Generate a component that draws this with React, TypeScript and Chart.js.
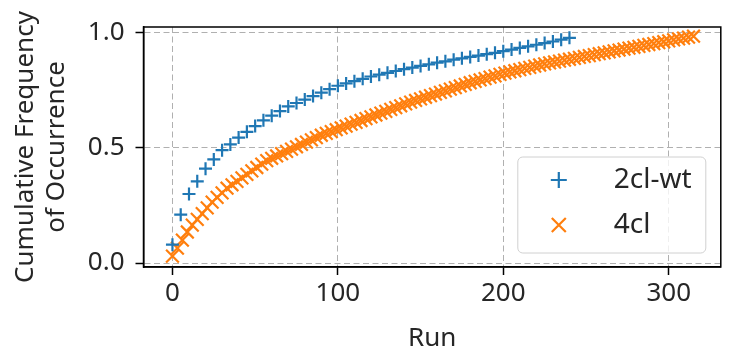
import React, { useEffect, useRef } from "react";
import { Chart, registerables } from "chart.js";

Chart.register(...registerables);

// Run numbers and cumulative frequencies
const runs2clwt = [
  0, 5, 10, 15, 20, 25, 30, 35, 40, 45, 50, 55, 60, 65, 70, 75, 80, 85, 90, 95,
  100, 105, 110, 115, 120, 125, 130, 135, 140, 145, 150, 155, 160, 165, 170, 175,
  180, 185, 190, 195, 200, 205, 210, 215, 220, 225, 230, 235, 240,
];
const freq2clwt = [
  0.08, 0.21, 0.3, 0.355, 0.41, 0.45, 0.49, 0.515, 0.545, 0.57, 0.595, 0.62, 0.64,
  0.66, 0.68, 0.695, 0.71, 0.725, 0.74, 0.755, 0.77, 0.78, 0.79, 0.8, 0.81, 0.818,
  0.826, 0.834, 0.842, 0.849, 0.856, 0.863, 0.87, 0.876, 0.883, 0.889, 0.895, 0.901,
  0.907, 0.913, 0.92, 0.927, 0.934, 0.941, 0.948, 0.955, 0.962, 0.97, 0.978,
];

const runs4cl = [
  0, 3, 6, 9, 12, 15, 18, 21, 24, 27, 30, 33, 36, 39, 42, 45, 48, 51, 54, 57, 60,
  63, 66, 69, 72, 75, 78, 81, 84, 87, 90, 93, 96, 99, 102, 105, 108, 111, 114, 117,
  120, 123, 126, 129, 132, 135, 138, 141, 144, 147, 150, 153, 156, 159, 162, 165,
  168, 171, 174, 177, 180, 183, 186, 189, 192, 195, 198, 201, 204, 207, 210, 213,
  216, 219, 222, 225, 228, 231, 234, 237, 240, 243, 246, 249, 252, 255, 258, 261,
  264, 267, 270, 273, 276, 279, 282, 285, 288, 291, 294, 297, 300, 303, 306, 309,
  312, 315,
];
const freq4cl = [
  0.03, 0.065, 0.1, 0.135, 0.165, 0.19, 0.215, 0.24, 0.265, 0.285, 0.305, 0.325,
  0.34, 0.355, 0.37, 0.385, 0.4, 0.415, 0.43, 0.445, 0.455, 0.465, 0.475, 0.485,
  0.495, 0.505, 0.515, 0.525, 0.535, 0.545, 0.555, 0.563, 0.571, 0.579, 0.587,
  0.595, 0.603, 0.611, 0.619, 0.627, 0.635, 0.643, 0.651, 0.659, 0.667, 0.675,
  0.683, 0.691, 0.699, 0.706, 0.713, 0.72, 0.727, 0.734, 0.741, 0.748, 0.755,
  0.762, 0.769, 0.776, 0.783, 0.789, 0.795, 0.801, 0.807, 0.813, 0.819, 0.825,
  0.83, 0.835, 0.84, 0.845, 0.85, 0.855, 0.86, 0.865, 0.869, 0.873, 0.877, 0.881,
  0.885, 0.889, 0.893, 0.897, 0.901, 0.905, 0.909, 0.913, 0.917, 0.921, 0.925,
  0.929, 0.933, 0.937, 0.941, 0.945, 0.949, 0.953, 0.957, 0.961, 0.965, 0.969,
  0.973, 0.977, 0.981, 0.985,
];

const seriesNames = ["2cl-wt", "4cl"];
const xTicks = [0, 100, 200, 300];
const yTicks = [0, 0.5, 1.0];
const xTitle = "Run";
const yTitle = ["Cumulative Frequency", "of Occurrence"];

const BLUE = "#1f77b4";
const ORANGE = "#ff7f0e";
const TEXT = "#262626";
const FONT = "'Noto Sans', 'DejaVu Sans', sans-serif";
const FS = 26;

const framePlugin = {
  id: "frame",
  afterDraw(chart: any) {
    const { ctx, chartArea } = chart;
    ctx.save();
    ctx.strokeStyle = "#000";
    ctx.lineWidth = 1.5;
    ctx.strokeRect(
      chartArea.left,
      chartArea.top,
      chartArea.right - chartArea.left,
      chartArea.bottom - chartArea.top
    );
    ctx.restore();
  },
};

const legendPlugin = {
  id: "insideLegend",
  afterDraw(chart: any) {
    const { ctx, chartArea } = chart;
    const w = 188;
    const h = 96;
    const x = chartArea.right - 15 - w;
    const y = chartArea.bottom - 14 - h;
    ctx.save();
    ctx.beginPath();
    const r = 5;
    ctx.moveTo(x + r, y);
    ctx.lineTo(x + w - r, y);
    ctx.arcTo(x + w, y, x + w, y + r, r);
    ctx.lineTo(x + w, y + h - r);
    ctx.arcTo(x + w, y + h, x + w - r, y + h, r);
    ctx.lineTo(x + r, y + h);
    ctx.arcTo(x, y + h, x, y + h - r, r);
    ctx.lineTo(x, y + r);
    ctx.arcTo(x, y, x + r, y, r);
    ctx.closePath();
    ctx.fillStyle = "rgba(255,255,255,0.8)";
    ctx.fill();
    ctx.strokeStyle = "#d0d0d0";
    ctx.lineWidth = 1;
    ctx.stroke();

    const mx = x + 41;
    const rows = [y + 23, y + 68];
    ctx.lineWidth = 2.2;
    ctx.strokeStyle = BLUE;
    ctx.beginPath();
    ctx.moveTo(mx - 8, rows[0]);
    ctx.lineTo(mx + 8, rows[0]);
    ctx.moveTo(mx, rows[0] - 8);
    ctx.lineTo(mx, rows[0] + 8);
    ctx.stroke();
    ctx.strokeStyle = ORANGE;
    ctx.beginPath();
    ctx.moveTo(mx - 7, rows[1] - 7);
    ctx.lineTo(mx + 7, rows[1] + 7);
    ctx.moveTo(mx - 7, rows[1] + 7);
    ctx.lineTo(mx + 7, rows[1] - 7);
    ctx.stroke();

    ctx.fillStyle = TEXT;
    ctx.font = `28px ${FONT}`;
    ctx.textAlign = "left";
    ctx.textBaseline = "middle";
    ctx.fillText(seriesNames[0], x + 96, rows[0]);
    ctx.fillText(seriesNames[1], x + 96, rows[1]);
    ctx.restore();
  },
};

export default function App() {
  const ref = useRef<HTMLCanvasElement | null>(null);

  useEffect(() => {
    if (!ref.current) return;
    const gridCommon = {
      color: "#b0b0b0",
      lineWidth: 1,
      tickColor: "#000",
      tickWidth: 1.5,
      tickLength: 8,
      tickBorderDash: [],
    };
    const chart = new Chart(ref.current, {
      type: "scatter",
      data: {
        datasets: [
          {
            label: seriesNames[0],
            data: runs2clwt.map((r, i) => ({ x: r, y: freq2clwt[i] })),
            pointStyle: "cross",
            pointRadius: 6.5,
            pointBorderWidth: 2.2,
            borderColor: BLUE,
            backgroundColor: BLUE,
            showLine: false,
          },
          {
            label: seriesNames[1],
            data: runs4cl.map((r, i) => ({ x: r, y: freq4cl[i] })),
            pointStyle: "crossRot",
            pointRadius: 9,
            pointBorderWidth: 2.2,
            borderColor: ORANGE,
            backgroundColor: ORANGE,
            showLine: false,
          },
        ],
      },
      options: {
        animation: false,
        responsive: false,
        layout: { padding: { left: 0, top: 27, right: 7, bottom: 0 } },
        plugins: {
          legend: { display: false },
          tooltip: { enabled: false },
        },
        scales: {
          x: {
            type: "linear",
            min: -17.5,
            max: 331.5,
            afterBuildTicks: (s: any) => {
              s.ticks = xTicks.map((v) => ({ value: v }));
            },
            afterFit: (s: any) => {
              s.height = 90;
            },
            grid: gridCommon,
            border: { display: true, color: "#000", width: 1.5, dash: [6, 3.5] },
            ticks: {
              color: TEXT,
              padding: 3,
              font: { family: FONT, size: FS },
              callback: (v: any) => String(v),
            },
            title: {
              display: true,
              text: xTitle,
              color: TEXT,
              font: { family: FONT, size: FS, lineHeight: 1.2 },
              padding: { top: 0, bottom: 3 },
            },
          },
          y: {
            type: "linear",
            min: -0.017,
            max: 1.025,
            afterBuildTicks: (s: any) => {
              s.ticks = yTicks.map((v) => ({ value: v }));
            },
            afterFit: (s: any) => {
              s.width = 143.5;
            },
            grid: gridCommon,
            border: { display: true, color: "#000", width: 1.5, dash: [6, 3.5] },
            ticks: {
              color: TEXT,
              padding: 11,
              font: { family: FONT, size: FS },
              callback: (v: any) => Number(v).toFixed(1),
            },
            title: {
              display: true,
              text: yTitle,
              color: TEXT,
              font: { family: FONT, size: FS, lineHeight: 1.2 },
              padding: { top: 10, bottom: 0 },
            },
          },
        },
      },
      plugins: [framePlugin, legendPlugin],
    });
    return () => chart.destroy();
  }, []);

  return (
    <div style={{ position: "absolute", left: 0, top: 0, width: 732, height: 357, background: "#fff" }}>
      <canvas ref={ref} width={732} height={357} style={{ display: "block" }} />
    </div>
  );
}
